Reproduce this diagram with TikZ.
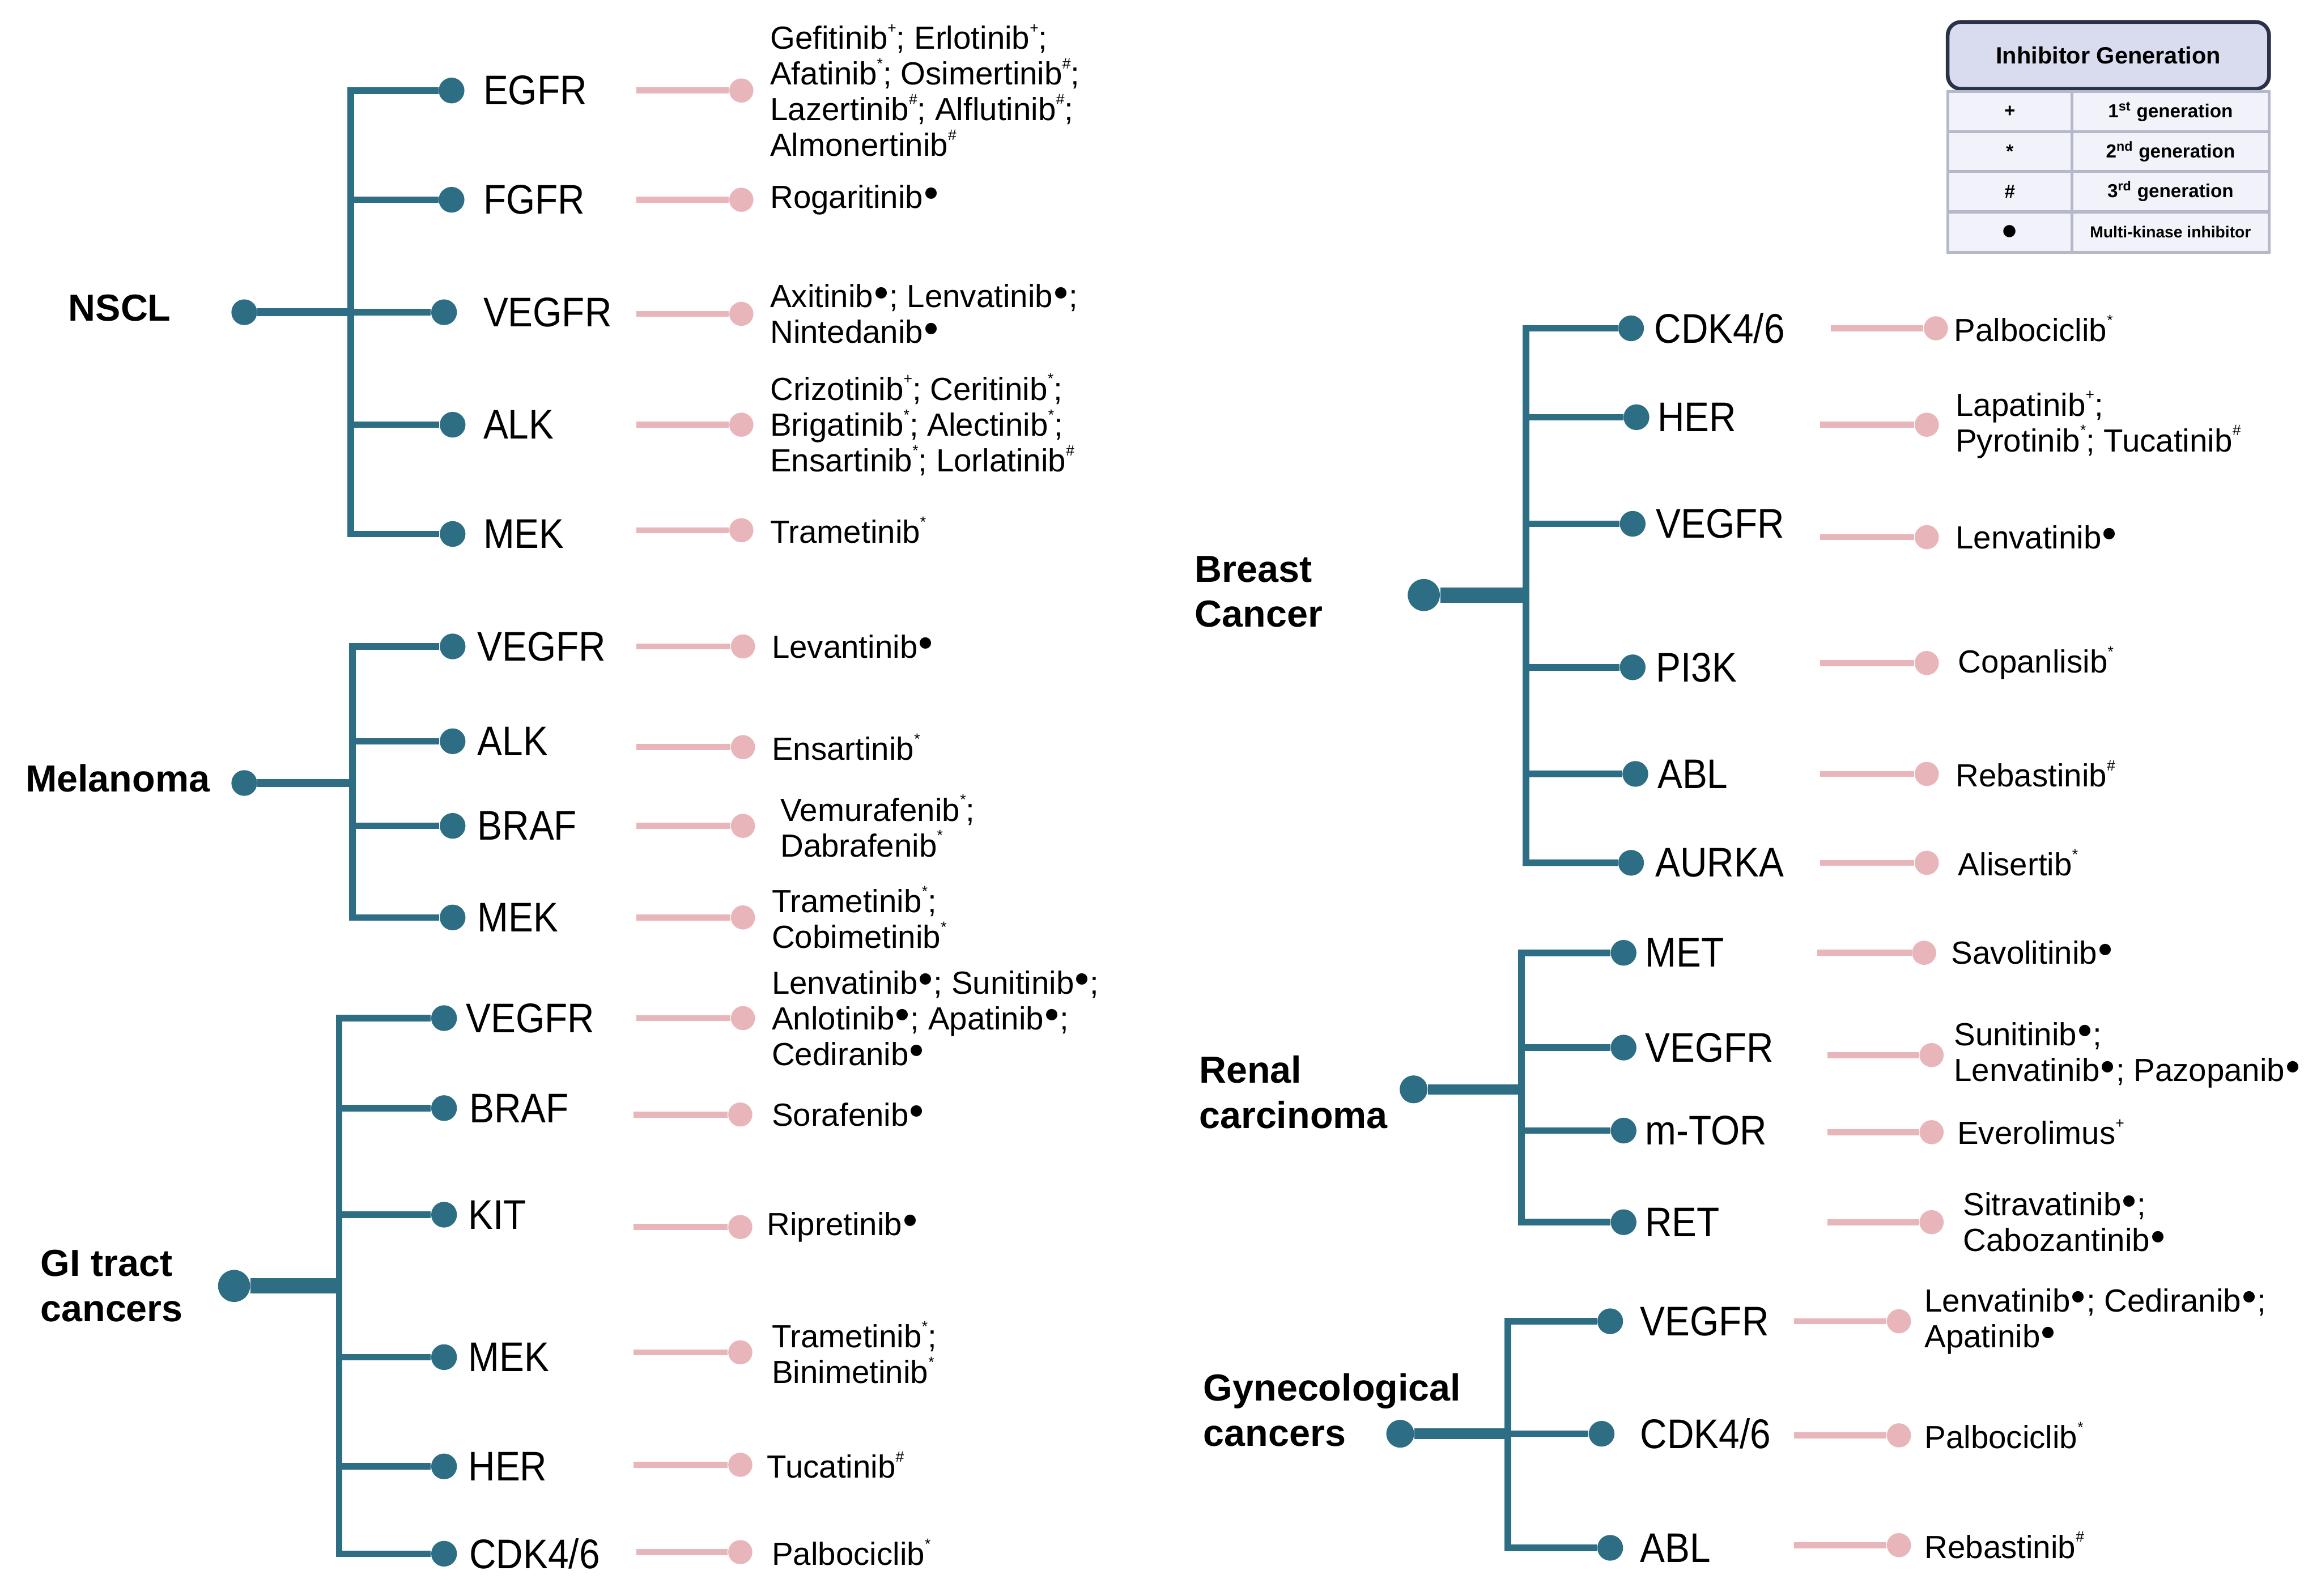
\documentclass[tikz,border=0pt]{standalone}
\usepackage{fontspec}
\setmainfont{Liberation Sans}
\newfontfamily\genefont[FakeStretch=0.9]{Liberation Sans}
\usetikzlibrary{positioning}
\definecolor{stemteal}{HTML}{2D6E85}
\definecolor{drugpink}{HTML}{E8B5BA}
\definecolor{legfill}{HTML}{D9DCEE}
\definecolor{legline}{HTML}{2A3148}
\definecolor{cellfill}{HTML}{F2F3FA}
\definecolor{cellline}{HTML}{B4B8C8}
\newcommand{\gmark}[1]{\raisebox{0.5em}{\fontsize{8}{8}\selectfont #1}}
\newcommand{\fstg}{\gmark{+}}
\newcommand{\sndg}{\gmark{*}}
\newcommand{\trdg}{\gmark{\#}}
\newcommand{\mkin}{\raisebox{0.22em}{\fontsize{14}{14}\selectfont ●}}

\begin{document}
\begin{tikzpicture}[
    gdot/.style={circle,fill=stemteal,inner sep=0pt,minimum size=0.48cm},
    rdot/.style={circle,fill=stemteal,inner sep=0pt,minimum size=0.48cm},
    pdot/.style={circle,fill=drugpink,inner sep=0pt,minimum size=0.45cm},
    stem/.style={draw=stemteal,line width=3.5pt},
    pinkline/.style={draw=drugpink,line width=3.2pt},
    gene/.style={inner sep=0pt,font=\genefont\fontsize{22}{26}\selectfont},
    drug/.style={inner sep=0pt,align=left,font=\fontsize{17}{19}\selectfont},
    cancer/.style={inner sep=0pt,anchor=west,align=left,font=\fontsize{20}{24}\selectfont\bfseries},
    cell/.style={draw=cellline,line width=1.5pt,fill=cellfill,minimum height=0.75cm,inner sep=0pt,font=\fontsize{10}{12}\selectfont\bfseries},
    node distance=0.3cm]
    \useasboundingbox (0,0) rectangle (43.33,-29.79);

    % NSCL
    \node[cancer] (1) at (1.27,-5.75) {NSCL};
    \node[rdot] (1r) at (4.56,-5.83) {};
    \coordinate (1j) at (6.55,-5.83);
    \node[gdot] (1a) at (8.43,-1.69) {};
    \node[gdot] (1b) at (8.43,-3.73) {};
    \node[gdot] (1c) at (8.29,-5.83) {};
    \node[gdot] (1d) at (8.45,-7.93) {};
    \node[gdot] (1e) at (8.45,-9.97) {};
    \node[gene,right=0.34cm of 1a] (1at) {EGFR};
    \node[gene,right=0.34cm of 1b] (1bt) {FGFR};
    \node[gene,right=0.48cm of 1c] (1ct) {VEGFR};
    \node[gene,right=0.32cm of 1d] (1dt) {ALK};
    \node[gene,right=0.32cm of 1e] (1et) {MEK};
    \coordinate (1as) at (11.88,-1.69);
    \coordinate (1bs) at (11.88,-3.73);
    \coordinate (1cs) at (11.88,-5.86);
    \coordinate (1ds) at (11.88,-7.93);
    \coordinate (1es) at (11.88,-9.90);
    \node[pdot] (1ap) at (13.84,-1.69) {};
    \node[pdot] (1bp) at (13.84,-3.73) {};
    \node[pdot] (1cp) at (13.84,-5.86) {};
    \node[pdot] (1dp) at (13.84,-7.93) {};
    \node[pdot] (1ep) at (13.84,-9.90) {};
    \node[drug,right=of 1ap] (1ad) {Gefitinib\fstg; Erlotinib\fstg;\\Afatinib\sndg; Osimertinib\trdg;\\Lazertinib\trdg; Alflutinib\trdg;\\Almonertinib\trdg};
    \node[drug,right=of 1bp] (1bd) {Rogaritinib\mkin};
    \node[drug,right=of 1cp] (1cd) {Axitinib\mkin; Lenvatinib\mkin;\\Nintedanib\mkin};
    \node[drug,right=of 1dp] (1dd) {Crizotinib\fstg; Ceritinib\sndg;\\Brigatinib\sndg; Alectinib\sndg;\\Ensartinib\sndg; Lorlatinib\trdg};
    \node[drug,right=of 1ep] (1ed) {Trametinib\sndg};
    \draw[stem,line width=4.2pt] (1r) -- (1j);
    \draw[stem] (1j) |- (1a) (1j) |- (1b) (1j) |- (1c) (1j) |- (1d) (1j) |- (1e);
    \draw[pinkline] (1as) -- (1ap) (1bs) -- (1bp) (1cs) -- (1cp) (1ds) -- (1dp) (1es) -- (1ep);

    % Melanoma
    \node[cancer] (2) at (0.47,-14.53) {Melanoma};
    \node[rdot] (2r) at (4.56,-14.62) {};
    \coordinate (2j) at (6.58,-14.62);
    \node[gdot] (2a) at (8.45,-12.07) {};
    \node[gdot] (2b) at (8.45,-13.84) {};
    \node[gdot] (2c) at (8.45,-15.42) {};
    \node[gdot] (2d) at (8.45,-17.13) {};
    \node[gene,right=0.21cm of 2a] (2at) {VEGFR};
    \node[gene,right=0.21cm of 2b] (2bt) {ALK};
    \node[gene,right=0.21cm of 2c] (2ct) {BRAF};
    \node[gene,right=0.21cm of 2d] (2dt) {MEK};
    \coordinate (2as) at (11.88,-12.07);
    \coordinate (2bs) at (11.88,-13.95);
    \coordinate (2cs) at (11.88,-15.42);
    \coordinate (2ds) at (11.88,-17.13);
    \node[pdot] (2ap) at (13.87,-12.07) {};
    \node[pdot] (2bp) at (13.87,-13.95) {};
    \node[pdot] (2cp) at (13.87,-15.42) {};
    \node[pdot] (2dp) at (13.87,-17.13) {};
    \node[drug,right=of 2ap] (2ad) {Levantinib\mkin};
    \node[drug,right=of 2bp] (2bd) {Ensartinib\sndg};
    \node[drug,right=0.46cm of 2cp] (2cd) {Vemurafenib\sndg;\\Dabrafenib\sndg};
    \node[drug,right=of 2dp] (2dd) {Trametinib\sndg;\\Cobimetinib\sndg};
    \draw[stem,line width=4.2pt] (2r) -- (2j);
    \draw[stem] (2j) |- (2a) (2j) |- (2b) (2j) |- (2c) (2j) |- (2d);
    \draw[pinkline] (2as) -- (2ap) (2bs) -- (2bp) (2cs) -- (2cp) (2ds) -- (2dp);

    % GI tract cancers
    \node[cancer] (3) at (0.75,-24.01) {GI tract\\cancers};
    \node[rdot,minimum size=0.6cm] (3r) at (4.37,-24.01) {};
    \coordinate (3j) at (6.33,-24.01);
    \node[gdot] (3a) at (8.29,-19.01) {};
    \node[gdot] (3b) at (8.29,-20.69) {};
    \node[gdot] (3c) at (8.29,-22.68) {};
    \node[gdot] (3d) at (8.29,-25.34) {};
    \node[gdot] (3e) at (8.29,-27.38) {};
    \node[gdot] (3f) at (8.29,-29.01) {};
    \node[gene,right=0.16cm of 3a] (3at) {VEGFR};
    \node[gene,right=0.22cm of 3b] (3bt) {BRAF};
    \node[gene,right=0.2cm of 3c] (3ct) {KIT};
    \node[gene,right=0.2cm of 3d] (3dt) {MEK};
    \node[gene,right=0.2cm of 3e] (3et) {HER};
    \node[gene,right=0.22cm of 3f] (3ft) {CDK4/6};
    \coordinate (3as) at (11.88,-19.01);
    \coordinate (3bs) at (11.83,-20.81);
    \coordinate (3cs) at (11.83,-22.91);
    \coordinate (3ds) at (11.83,-25.25);
    \coordinate (3es) at (11.83,-27.35);
    \coordinate (3fs) at (11.88,-28.98);
    \node[pdot] (3ap) at (13.87,-19.01) {};
    \node[pdot] (3bp) at (13.82,-20.81) {};
    \node[pdot] (3cp) at (13.82,-22.91) {};
    \node[pdot] (3dp) at (13.82,-25.25) {};
    \node[pdot] (3ep) at (13.82,-27.35) {};
    \node[pdot] (3fp) at (13.82,-28.98) {};
    \node[drug,right=of 3ap] (3ad) {Lenvatinib\mkin; Sunitinib\mkin;\\Anlotinib\mkin; Apatinib\mkin;\\Cediranib\mkin};
    \node[drug,right=0.35cm of 3bp] (3bd) {Sorafenib\mkin};
    \node[drug,right=0.26cm of 3cp] (3cd) {Ripretinib\mkin};
    \node[drug,right=0.35cm of 3dp] (3dd) {Trametinib\sndg;\\Binimetinib\sndg};
    \node[drug,right=0.26cm of 3ep] (3ed) {Tucatinib\trdg};
    \node[drug,right=0.35cm of 3fp] (3fd) {Palbociclib\sndg};
    \draw[stem,line width=8pt] (3r) -- (3j);
    \draw[stem] (3j) |- (3a) (3j) |- (3b) (3j) |- (3c) (3j) |- (3d) (3j) |- (3e) (3j) |- (3f);
    \draw[pinkline] (3as) -- (3ap) (3bs) -- (3bp) (3cs) -- (3cp) (3ds) -- (3dp) (3es) -- (3ep) (3fs) -- (3fp);

    % Breast Cancer
    \node[cancer] (4) at (22.30,-11.05) {Breast\\Cancer};
    \node[rdot,minimum size=0.6cm] (4r) at (26.58,-11.11) {};
    \coordinate (4j) at (28.49,-11.11);
    \node[gdot] (4a) at (30.45,-6.13) {};
    \node[gdot] (4b) at (30.55,-7.79) {};
    \node[gdot] (4c) at (30.48,-9.78) {};
    \node[gdot] (4d) at (30.48,-12.46) {};
    \node[gdot] (4e) at (30.53,-14.45) {};
    \node[gdot] (4f) at (30.45,-16.11) {};
    \node[gene,right=0.18cm of 4a] (4at) {CDK4/6};
    \node[gene,right=0.14cm of 4b] (4bt) {HER};
    \node[gene,right=0.18cm of 4c] (4ct) {VEGFR};
    \node[gene,right=0.18cm of 4d] (4dt) {PI3K};
    \node[gene,right=0.16cm of 4e] (4et) {ABL};
    \node[gene,right=0.2cm of 4f] (4ft) {AURKA};
    \coordinate (4as) at (34.18,-6.13);
    \coordinate (4bs) at (33.98,-7.93);
    \coordinate (4cs) at (33.98,-10.03);
    \coordinate (4ds) at (33.98,-12.38);
    \coordinate (4es) at (33.98,-14.45);
    \coordinate (4fs) at (33.98,-16.11);
    \node[pdot] (4ap) at (36.14,-6.13) {};
    \node[pdot] (4bp) at (35.97,-7.93) {};
    \node[pdot] (4cp) at (35.97,-10.03) {};
    \node[pdot] (4dp) at (35.97,-12.38) {};
    \node[pdot] (4ep) at (35.97,-14.45) {};
    \node[pdot] (4fp) at (35.97,-16.11) {};
    \node[drug,right=0.1cm of 4ap] (4ad) {Palbociclib\sndg};
    \node[drug,right=of 4bp] (4bd) {Lapatinib\fstg;\\Pyrotinib\sndg; Tucatinib\trdg};
    \node[drug,right=of 4cp] (4cd) {Lenvatinib\mkin};
    \node[drug,right=0.35cm of 4dp] (4dd) {Copanlisib\sndg};
    \node[drug,right=of 4ep] (4ed) {Rebastinib\trdg};
    \node[drug,right=0.35cm of 4fp] (4fd) {Alisertib\sndg};
    \draw[stem,line width=8pt] (4r) -- (4j);
    \draw[stem] (4j) |- (4a) (4j) |- (4b) (4j) |- (4c) (4j) |- (4d) (4j) |- (4e) (4j) |- (4f);
    \draw[pinkline] (4as) -- (4ap) (4bs) -- (4bp) (4cs) -- (4cp) (4ds) -- (4dp) (4es) -- (4ep) (4fs) -- (4fp);

    % Renal carcinoma
    \node[cancer] (5) at (22.38,-20.39) {Renal\\carcinoma};
    \node[rdot,minimum size=0.52cm] (5r) at (26.39,-20.34) {};
    \coordinate (5j) at (28.40,-20.34);
    \node[gdot] (5a) at (30.31,-17.79) {};
    \node[gdot] (5b) at (30.31,-19.56) {};
    \node[gdot] (5c) at (30.31,-21.11) {};
    \node[gdot] (5d) at (30.31,-22.82) {};
    \node[gene,right=0.15cm of 5a] (5at) {MET};
    \node[gene,right=0.15cm of 5b] (5bt) {VEGFR};
    \node[gene,right=0.15cm of 5c] (5ct) {m-TOR};
    \node[gene,right=0.15cm of 5d] (5dt) {RET};
    \coordinate (5as) at (33.93,-17.79);
    \coordinate (5bs) at (34.12,-19.70);
    \coordinate (5cs) at (34.12,-21.14);
    \coordinate (5ds) at (34.12,-22.82);
    \node[pdot] (5ap) at (35.92,-17.79) {};
    \node[pdot] (5bp) at (36.06,-19.70) {};
    \node[pdot] (5cp) at (36.06,-21.14) {};
    \node[pdot] (5dp) at (36.06,-22.82) {};
    \node[drug,right=0.27cm of 5ap] (5ad) {Savolitinib\mkin};
    \node[drug,right=0.18cm of 5bp] (5bd) {Sunitinib\mkin;\\Lenvatinib\mkin; Pazopanib\mkin};
    \node[drug,right=0.24cm of 5cp] (5cd) {Everolimus\fstg};
    \node[drug,right=0.35cm of 5dp] (5dd) {Sitravatinib\mkin;\\Cabozantinib\mkin};
    \draw[stem,line width=5.5pt] (5r) -- (5j);
    \draw[stem] (5j) |- (5a) (5j) |- (5b) (5j) |- (5c) (5j) |- (5d);
    \draw[pinkline] (5as) -- (5ap) (5bs) -- (5bp) (5cs) -- (5cp) (5ds) -- (5dp);

    % Gynecological cancers
    \node[cancer] (6) at (22.46,-26.33) {Gynecological\\cancers};
    \node[rdot,minimum size=0.52cm] (6r) at (26.14,-26.77) {};
    \coordinate (6j) at (28.15,-26.77);
    \node[gdot] (6a) at (30.06,-24.67) {};
    \node[gdot] (6b) at (29.90,-26.77) {};
    \node[gdot] (6c) at (30.06,-28.90) {};
    \node[gene,right=0.31cm of 6a] (6at) {VEGFR};
    \node[gene,right=0.47cm of 6b] (6bt) {CDK4/6};
    \node[gene,right=0.31cm of 6c] (6ct) {ABL};
    \coordinate (6as) at (33.49,-24.67);
    \coordinate (6bs) at (33.49,-26.80);
    \coordinate (6cs) at (33.49,-28.85);
    \node[pdot] (6ap) at (35.45,-24.67) {};
    \node[pdot] (6bp) at (35.45,-26.80) {};
    \node[pdot] (6cp) at (35.45,-28.85) {};
    \node[drug,right=0.24cm of 6ap] (6ad) {Lenvatinib\mkin; Cediranib\mkin;\\Apatinib\mkin};
    \node[drug,right=0.24cm of 6bp] (6bd) {Palbociclib\sndg};
    \node[drug,right=0.24cm of 6cp] (6cd) {Rebastinib\trdg};
    \draw[stem,line width=5.5pt] (6r) -- (6j);
    \draw[stem] (6j) |- (6a) (6j) |- (6b) (6j) |- (6c);
    \draw[pinkline] (6as) -- (6ap) (6bs) -- (6bp) (6cs) -- (6cp);

    % legend
    \node[draw=legline,line width=2pt,fill=legfill,rounded corners=0.25cm,minimum width=6cm,minimum height=1.25cm,inner sep=0pt,font=\fontsize{12.5}{14}\selectfont\bfseries] (lg) at (39.36,-1.035) {Inhibitor Generation};
    \node[cell,minimum width=2.32cm] (g1) at (37.52,-2.085) {+};
    \node[cell,minimum width=3.68cm] (g1t) at (40.52,-2.085) {1\textsuperscript{st} generation};
    \node[cell,minimum width=2.32cm] (g2) at (37.52,-2.83) {*};
    \node[cell,minimum width=3.68cm] (g2t) at (40.52,-2.83) {2\textsuperscript{nd} generation};
    \node[cell,minimum width=2.32cm] (g3) at (37.52,-3.575) {\#};
    \node[cell,minimum width=3.68cm] (g3t) at (40.52,-3.575) {3\textsuperscript{rd} generation};
    \node[cell,minimum width=2.32cm,font=\fontsize{15}{15}\selectfont] (g4) at (37.52,-4.335) {●};
    \node[cell,minimum width=3.68cm,font=\fontsize{8.5}{10}\selectfont\bfseries] (g4t) at (40.52,-4.335) {Multi-kinase inhibitor};
\end{tikzpicture}
\end{document}
